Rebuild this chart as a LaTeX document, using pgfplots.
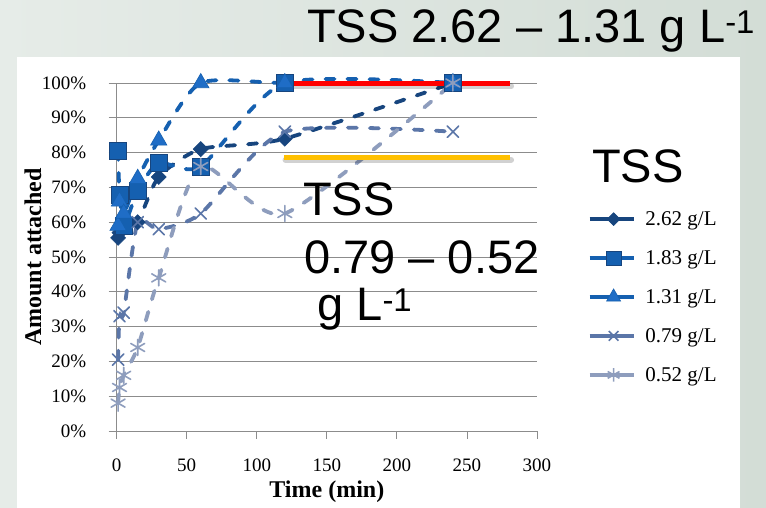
\documentclass[border=0pt]{standalone}
\usepackage{fontspec}
\setmainfont{Liberation Serif}
\newfontfamily\arial{Liberation Sans}
\usepackage{pgfplots}
\pgfplotsset{compat=1.18}
\definecolor{cA}{HTML}{17457E}
\definecolor{cB}{HTML}{1560B0}
\definecolor{cC}{HTML}{1F6DC6}
\definecolor{cD}{HTML}{5B76A8}
\definecolor{cE}{HTML}{8E9DBD}
\definecolor{gridc}{HTML}{8C8C8C}
\definecolor{bgL}{HTML}{E6ECE8}
\definecolor{bgM}{HTML}{DEE6D0}
\definecolor{bgR}{HTML}{D3DDD6}
\definecolor{tssred}{HTML}{FF0000}
\definecolor{tssyel}{HTML}{FFC000}
\begin{document}
\begin{tikzpicture}[x=1pt,y=1pt]
\shade[left color=bgL, middle color=bgM, right color=bgR] (0,0) rectangle (766,508);
\fill[white] (17,0) rectangle (740,451);
\begin{axis}[
  at={(116.7pt,77pt)}, anchor=south west,
  scale only axis, width=420.3pt, height=348pt,
  xmin=0, xmax=300, ymin=0, ymax=1,
  clip=false,
  axis x line=bottom, axis y line=left,
  axis line style={-, draw=gridc, line width=0.8pt},
  xtick={0,50,100,150,200,250,300},
  ytick={0,0.1,0.2,0.3,0.4,0.5,0.6,0.7,0.8,0.9,1},
  yticklabels={0\%,10\%,20\%,30\%,40\%,50\%,60\%,70\%,80\%,90\%,100\%},
  ymajorgrids, grid style={draw=gridc, line width=0.8pt},
  tick align=outside, major tick length=8pt,
  tick style={draw=gridc, line width=0.8pt},
  ticklabel style={font=\fontsize{19}{22}\selectfont},
  xticklabel style={yshift=-16pt},
  yticklabel style={xshift=-19pt},
  /pgf/number format/assume math mode=true,
  xlabel={\textbf{Time (min)}},
  ylabel={\textbf{Amount attached}},
  label style={font=\fontsize{24}{27}\selectfont},
  xlabel style={at={(axis description cs:0.5,-0.1753)}, anchor=center},
  ylabel style={at={(axis description cs:-0.199,0.5)}, anchor=center},
  legend image code/.code={\draw[mark repeat=2,mark phase=2,#1,solid,line cap=butt,/tikz/every mark/.append style={scale=0.85}] plot coordinates {(0pt,0pt) (24pt,0pt) (44pt,0pt)};},
  legend style={at={(1.113,0.643)}, anchor=north west, draw=none, fill=none,
    font=\fontsize{21}{24}\selectfont, row sep=19.5pt,
    /tikz/every odd column/.append style={column sep=8pt}},
  legend cell align=left,
  every axis plot/.append style={line width=3.8pt, dash pattern=on 9pt off 13pt, line cap=round, smooth, tension=0.4},
]
\addplot[color=cA, mark=diamond*, mark size=7.5pt, mark options={solid, fill=cA, draw=cA, line width=0.6pt, xscale=1.33}]
 coordinates {(1,0.555) (2,0.57) (5,0.585) (15,0.60) (30,0.73) (60,0.81) (120,0.84) (240,1.0)};
\addlegendentry{2.62 g/L}
\addplot[color=cB, mark=square*, mark size=8.5pt, mark options={solid, fill=cB, draw=cA, line width=0.6pt}]
 coordinates {(1,0.805) (2,0.68) (5,0.59) (15,0.69) (30,0.77) (60,0.76) (120,1.0) (240,1.0)};
\addlegendentry{1.83 g/L}
\addplot[color=cB, mark=triangle*, mark size=9.5pt, mark options={solid, fill=cC, draw=cB, line width=0.6pt}]
 coordinates {(1,0.59) (2,0.66) (5,0.625) (15,0.725) (30,0.835) (60,1.0) (120,1.0) (240,1.0)};
\addlegendentry{1.31 g/L}
\addplot[color=cD, mark=x, mark size=8pt, mark options={solid, draw=cD, line width=1.6pt}]
 coordinates {(1,0.205) (2,0.33) (5,0.34) (15,0.60) (30,0.58) (60,0.625) (120,0.86) (240,0.86)};
\addlegendentry{0.79 g/L}
\addplot[color=cE, mark=asterisk, mark size=8pt, mark options={solid, draw=cE, line width=1.6pt}]
 coordinates {(1,0.08) (2,0.125) (5,0.16) (15,0.24) (30,0.44) (60,0.76) (120,0.625) (240,1.0)};
\addlegendentry{0.52 g/L}
\addplot[forget plot, no marks, solid, sharp plot, draw=black, opacity=0.18, line width=6pt] coordinates {(120.5,0.990) (281.5,0.990)};
\addplot[forget plot, no marks, solid, sharp plot, draw=tssred, line width=5pt, line cap=butt] coordinates {(119.5,0.998) (280.5,0.998)};
\addplot[forget plot, no marks, solid, sharp plot, draw=black, opacity=0.18, line width=6pt] coordinates {(120.5,0.779) (281.5,0.779)};
\addplot[forget plot, no marks, solid, sharp plot, draw=tssyel, line width=5pt, line cap=butt] coordinates {(119.5,0.787) (280.5,0.787)};
\end{axis}
\begin{scope}[every node/.style={inner sep=0pt, font=\arial\fontsize{47}{50}\selectfont}]
\node[anchor=base west] at (307,465) {TSS 2.62 – 1.31 g L\textsuperscript{-1}};
\node[anchor=base west] at (303,292) {TSS};
\node[anchor=base west] at (304,234) {0.79 – 0.52};
\node[anchor=base west] at (317,187) {g L\textsuperscript{-1}};
\node[anchor=base west] at (592,325) {TSS};
\end{scope}
\end{tikzpicture}
\end{document}
